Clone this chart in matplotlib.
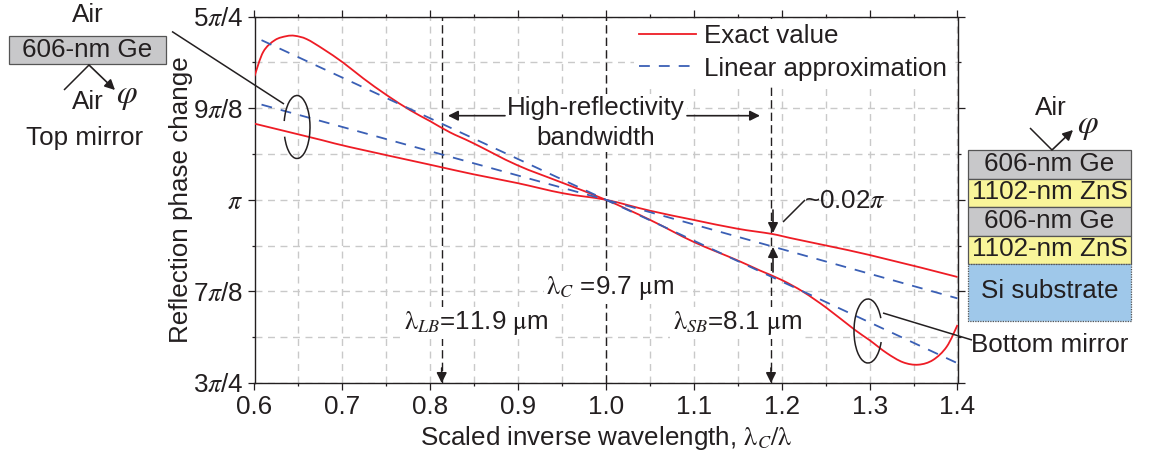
import matplotlib
matplotlib.use("Agg")
import matplotlib.pyplot as plt
from matplotlib.lines import Line2D
from matplotlib.patches import Arc, PathPatch, Rectangle
from matplotlib.path import Path
from matplotlib.ticker import MultipleLocator

plt.rcParams['font.family'] = ['Liberation Sans', 'DejaVu Sans']
plt.rcParams['mathtext.fontset'] = 'stix'

# y values are in units of pi
top_exact_x = [0.600, 0.610, 0.6233, 0.6366, 0.6461, 0.6594, 0.6783, 0.7011, 0.7238, 0.7504, 0.7770, 0.7997,
               0.8225, 0.8487, 0.8987, 0.951, 1.0, 1.05, 1.0994, 1.1487, 1.1753, 1.2, 1.2242, 1.2512, 1.2834,
               1.2997, 1.3194, 1.338, 1.3554, 1.3721, 1.3877, 1.40]
top_exact_y = [1.1689, 1.2021, 1.2181, 1.2235, 1.2239, 1.2194, 1.2058, 1.1871, 1.1658, 1.143, 1.1225, 1.1075,
               1.0921, 1.0775, 1.0475, 1.023, 1.0, 0.9727, 0.9428, 0.9179, 0.9035, 0.8906, 0.8746, 0.8523,
               0.8223, 0.8087, 0.7909, 0.7783, 0.775, 0.7814, 0.7995, 0.8292]
bottom_exact_x = [0.60, 0.6765, 0.7087, 0.7997, 0.8487, 0.8987, 0.951, 1.0, 1.05, 1.0994, 1.1487, 1.1887, 1.2094,
                  1.30, 1.40]
bottom_exact_y = [1.104, 1.0816, 1.072, 1.048, 1.035, 1.023, 1.009, 1.0, 0.9852, 0.9727, 0.9608, 0.9535, 0.9480,
                  0.9247, 0.8947]
approx_x = [0.608, 1.0, 1.40]
top_approx_y = [1.218, 1.0, 0.777]
bottom_approx_y = [1.13, 1.0, 0.8655]

band_lines = [0.813, 1.0, 1.188]
x_ticks = [0.6, 0.7, 0.8, 0.9, 1.0, 1.1, 1.2, 1.3, 1.4]
y_ticks = [0.75, 0.875, 1.0, 1.125, 1.25]
y_labels = [r'3$\pi$/4', r'7$\pi$/8', r'$\pi$', r'9$\pi$/8', r'5$\pi$/4']

RED = '#ee1c25'
BLUE = '#3a5fb5'
GRAY = '#c8c8ca'
YELLOW = '#f9f59a'
SKY = '#9fc8ea'
DARK = '#231f20'
FS = 18.7


def smooth_curve(xs, ys):
    # bezier path through the read points, so the curve has no corners
    verts = [(xs[0], ys[0])]
    codes = [Path.MOVETO]
    n = len(xs)
    for i in range(n - 1):
        a = max(i - 1, 0)
        b = min(i + 2, n - 1)
        verts.append((xs[i] + (xs[i + 1] - xs[a]) / 6, ys[i] + (ys[i + 1] - ys[a]) / 6))
        verts.append((xs[i + 1] - (xs[b] - xs[i]) / 6, ys[i + 1] - (ys[b] - ys[i]) / 6))
        verts.append((xs[i + 1], ys[i + 1]))
        codes += [Path.CURVE4, Path.CURVE4, Path.CURVE4]
    return Path(verts, codes)


fig = plt.figure(figsize=(11.5, 4.59), dpi=100)
ax = fig.add_axes([254.5 / 1150, 1 - 383 / 459, 703 / 1150, 366.3 / 459])

for x in band_lines:
    ax.axvline(x, color=DARK, lw=1.0, dashes=(6, 3), zorder=3)
ax.add_patch(PathPatch(smooth_curve(top_exact_x, top_exact_y), fill=False, ec=RED, lw=1.3, zorder=4))
ax.add_patch(PathPatch(smooth_curve(bottom_exact_x, bottom_exact_y), fill=False, ec=RED, lw=1.3, zorder=4))
ax.plot(approx_x, top_approx_y, color=BLUE, lw=1.3, dashes=(6, 5), zorder=4)
ax.plot(approx_x, bottom_approx_y, color=BLUE, lw=1.3, dashes=(6, 5), zorder=4)

ax.set_xlim(0.6, 1.4)
ax.set_ylim(0.75, 1.25)
ax.set_xticks(x_ticks)
ax.set_yticks(y_ticks)
ax.set_yticklabels(y_labels)
ax.xaxis.set_minor_locator(MultipleLocator(0.05))
ax.yaxis.set_minor_locator(MultipleLocator(1 / 16))
ax.grid(True, which='both', color='#c9c9c9', lw=1.0, dashes=(5, 4))
ax.set_axisbelow(True)
ax.tick_params(which='both', top=True, right=True, direction='out', color=DARK, width=0.9)
ax.tick_params(which='major', length=5, labelsize=FS, labelcolor=DARK, pad=3)
ax.tick_params(axis='x', which='major', pad=4)
ax.tick_params(which='minor', length=2.5)
for s in ax.spines.values():
    s.set_linewidth(1.0)
    s.set_color(DARK)
ax.set_xlabel(r'Scaled inverse wavelength, $\mathrm{\lambda}_C/\mathrm{\lambda}$', fontsize=FS, color=DARK, labelpad=3)
ax.set_ylabel('Reflection phase change', fontsize=FS, color=DARK, labelpad=0)

handles = [Line2D([], [], color=RED, lw=1.3), Line2D([], [], color=BLUE, lw=1.3, dashes=(6, 5))]
leg = ax.legend(handles, ['Exact value', 'Linear approximation'], loc='upper left', bbox_to_anchor=(0.54, 0.995),
                fontsize=FS, frameon=True, framealpha=1, edgecolor='none', fancybox=False, handlelength=2.2,
                labelspacing=0.34, borderpad=0.2, borderaxespad=0, handletextpad=0.3, labelcolor=DARK)
leg.set_zorder(5)

# overlay in figure pixels for the layer stacks and notes
ov = fig.add_axes([0, 0, 1, 1], zorder=10)
ov.set_xlim(0, 1150)
ov.set_ylim(459, 0)
ov.axis('off')


def note(x, y, s, size=FS, box=False, **kw):
    bbox = dict(fc='white', ec='none', pad=1.5) if box else None
    ov.text(x, y, s, fontsize=size, color=DARK, ha='center', va='center', bbox=bbox, **kw)


def seg(xs, ys, lw=1.1):
    ov.plot(xs, ys, color=DARK, lw=lw, solid_capstyle='butt')


def arrow(x0, y0, x1, y1):
    ov.annotate('', xy=(x1, y1), xytext=(x0, y0),
                arrowprops=dict(arrowstyle='-|>,head_width=0.3,head_length=0.6', color=DARK, lw=1.2,
                                shrinkA=0, shrinkB=0))


# top mirror
ov.add_patch(Rectangle((8.5, 35.5), 157.5, 28.5, fc=GRAY, ec='#555555', lw=0.9))
note(88, 15, 'Air')
note(87, 50, '606-nm Ge')
seg([64, 89], [90, 65])
arrow(89, 65, 115, 90)
note(88, 102, 'Air')
note(127, 97, r'$\varphi$', size=24)
note(85, 138, 'Top mirror')
seg([172, 284], [31.5, 104])
ov.add_patch(Arc((297, 127), 26, 63, theta1=-155, theta2=142, color=DARK, lw=1.1))

# bottom mirror stack
layer_edges = [150, 178.7, 206.7, 235.7, 264]
layer_names = ['606-nm Ge', '1102-nm ZnS', '606-nm Ge', '1102-nm ZnS']
layer_colors = [GRAY, YELLOW, GRAY, YELLOW]
for i in range(4):
    ov.add_patch(Rectangle((968, layer_edges[i]), 162.7, layer_edges[i + 1] - layer_edges[i],
                           fc=layer_colors[i], ec='#555555', lw=0.9))
    note(1049.5, (layer_edges[i] + layer_edges[i + 1]) / 2 - 0.5, layer_names[i])
ov.add_patch(Rectangle((968, 264), 162.7, 56.7, fc=SKY, ec='#555555', lw=0.9, ls=(0, (1, 1))))
note(1050, 291, 'Si substrate')
note(1051, 108, 'Air')
seg([1030, 1052], [128, 150])
arrow(1052, 150, 1073, 130)
note(1088, 126, r'$\varphi$', size=24)
note(1050, 345, 'Bottom mirror')
seg([883, 972], [313, 340])
ov.add_patch(Arc((868, 331), 28, 64, theta1=40, theta2=315, color=DARK, lw=1.1))

# labels inside the plot
note(596, 123, 'High-reflectivity\nbandwidth', box=True, linespacing=1.3)
arrow(505, 115.7, 448, 115.7)
arrow(687, 115.7, 760, 115.7)
note(610, 288, r'$\mathrm{\lambda}_C$ =9.7 $\mathrm{\mu}$m', box=True)
note(476, 323, r'$\mathrm{\lambda}_{LB}$=11.9 $\mathrm{\mu}$m', box=True)
note(737, 323, r'$\mathrm{\lambda}_{SB}$=8.1 $\mathrm{\mu}$m', box=True)
note(845, 201, r'~0.02$\pi$')
seg([783, 805], [222, 200])
arrow(773, 210, 773, 233)
arrow(773, 272, 773, 247)
arrow(441.7, 368, 441.7, 383)
arrow(771, 368, 771, 383)

fig.savefig('out.png', dpi=100)
